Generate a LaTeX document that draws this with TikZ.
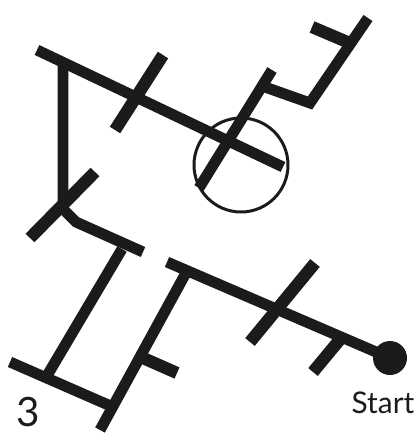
\documentclass[tikz,border=0pt]{standalone}
\usepackage{fontspec}
\setmainfont{Lato}
\usepackage{tikz}
\usetikzlibrary{calc}

\begin{document}
\begin{tikzpicture}[x=0.02cm,y=-0.02cm]
\definecolor{ink}{RGB}{28,26,26}
\tikzset{route/.style={line width=6.2pt,color=ink},
  bar/.style={line width=7pt,color=ink}}
\useasboundingbox (0,0) rectangle (419,435);
\coordinate (S) at (390,358);
\coordinate (A) at (167,262);
\coordinate (B) at (187,271);
\coordinate (C) at (100,430);
\coordinate (D) at (10,362);
\coordinate (E) at (113,407);
\coordinate (F) at (48,374);
\coordinate (G) at (122,249);
\coordinate (H) at (63,62);
\coordinate (I) at (63,209);
\coordinate (J) at (76,222);
\coordinate (K) at (143,252);
\coordinate (L) at (37,50);
\coordinate (M) at (283,167);
\coordinate (N) at (199,188);
\coordinate (O) at (272,70);
\coordinate (P) at (262,86);
\coordinate (Q) at (310,103);
\coordinate (R) at (368,18);
  % route
  \draw[route] (S) -- (A);
  \draw[route] (B) -- (C);
  \draw[route] (D) -- (E);
  \draw[route] (F) -- (G);
  \draw[route] (H) -- (I) -- (J) -- (K);
  \draw[route] (L) -- (M);
  \draw[route] (N) -- (O);
  \draw[route] (P) -- (Q) -- (R);
  % bars
  \draw[bar] (115,130) -- (163,55);
  \draw[bar] (30,238) -- (95,172);
  \draw[bar] (250,342) -- (315,263);
  \draw[bar] (313,372) -- (342,337);
  \draw[bar] (143,358) -- (177,373);
  \draw[bar] (312,27) -- (352,44);
  %\draw[bar] (267,68) -- (278,72);

  \draw[line width=1.7pt,color=ink] (241,165) circle (47);
  \fill[ink] (S) circle (17);

  \node[font=\fontsize{17}{17}\selectfont,text=ink] (start) at (383,403) {Start};
  \node[font=\fontsize{23}{23}\selectfont,text=ink] (three) at (28,412) {3};
\end{tikzpicture}
\end{document}
